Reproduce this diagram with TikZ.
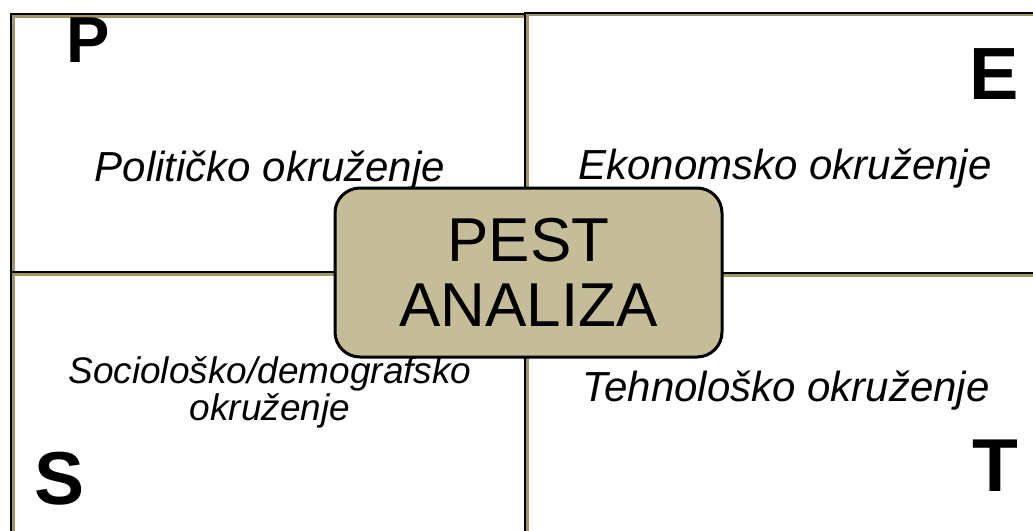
\documentclass[tikz,border=0pt]{standalone}
\usepackage{fontspec}
\setmainfont{Liberation Sans}
\definecolor{tan}{RGB}{196,189,151}
\definecolor{olive}{RGB}{160,152,100}
\begin{document}
\begin{tikzpicture}[x=1pt,y=-1pt,
  shadowline/.style={draw=olive,line width=2.5pt},
  blackline/.style={draw=black,line width=2pt},
  quad/.style={font=\fontsize{42}{46}\selectfont\itshape,anchor=base,inner sep=0pt},
  letter/.style={font=\bfseries,anchor=base,inner sep=0pt},
  pest/.style={draw=black,line width=3pt,fill=tan,rounded corners=25pt,
    minimum width=387pt,minimum height=169pt,align=center,inner sep=0pt,
    font=\fontsize{62}{65}\selectfont}]
\useasboundingbox (0,0) rectangle (1033,530);
\fill[white] (0,0) rectangle (1033,530);
% quadrant boxes: olive offset outline then black outline
\foreach \a/\b/\c/\d in {11/14/525/272, 524.5/12.5/1045/272.5, 11/272/525/545, 524.5/273/1045/545}{
  \draw[shadowline] (\a+2.5,\b+2.5) rectangle (\c+2.5,\d+2.5);
}
\foreach \a/\b/\c/\d in {11/14/525/272, 524.5/12.5/1045/272.5, 11/272/525/545, 524.5/273/1045/545}{
  \draw[blackline] (\a,\b) rectangle (\c,\d);
}
\node[quad] (pol) at (270,181) {Političko okruženje};
\node[quad] (eko) at (785,179) {Ekonomsko okruženje};
\node[quad,font=\fontsize{37}{40}\selectfont\itshape] (soc1) at (270,383) {Sociološko/demografsko};
\node[quad,font=\fontsize{37}{40}\selectfont\itshape] (soc2) at (270,420) {okruženje};
\node[quad] (teh) at (786,401) {Tehnološko okruženje};
\node[letter,font=\fontsize{65}{65}\selectfont\bfseries] (lp) at (88,62) {P};
\node[letter,font=\fontsize{74}{74}\selectfont\bfseries] (le) at (994,99) {E};
\node[letter,font=\fontsize{75}{75}\selectfont\bfseries] (ls) at (59.5,504) {S};
\node[letter,font=\fontsize{75}{75}\selectfont\bfseries] (lt) at (995.5,491) {T};
\node[pest] (box) at (528.5,272.5) {PEST\\ANALIZA};
\end{tikzpicture}
\end{document}
